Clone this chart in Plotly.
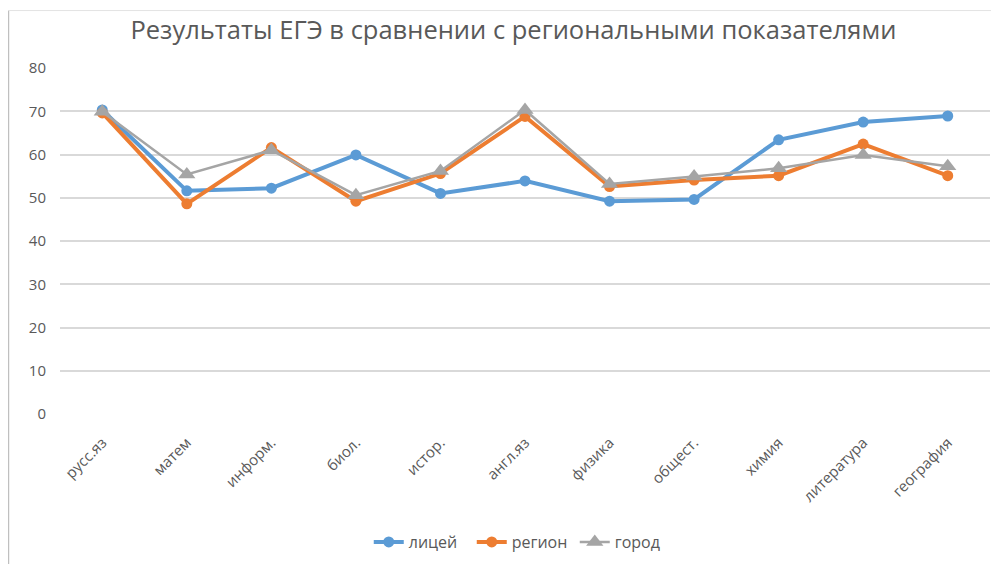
import plotly.graph_objects as go

categories = ["русс.яз", "матем", "информ.", "биол.", "истор.", "англ.яз",
              "физика", "общест.", "химия", "литература", "география"]
litsey = [70.3, 51.6, 52.2, 59.9, 51.0, 53.9, 49.2, 49.6, 63.4, 67.5, 68.9]
region = [69.6, 48.6, 61.6, 49.2, 55.6, 68.8, 52.6, 54.1, 55.1, 62.4, 55.1]
gorod = [69.9, 55.4, 61.0, 50.6, 56.2, 70.3, 53.2, 54.9, 56.8, 59.9, 57.3]
y_ticks = [0, 10, 20, 30, 40, 50, 60, 70, 80]

font_family = "Open Sans, Noto Sans, sans-serif"
text_color = "#595959"

fig = go.Figure()
fig.add_trace(go.Scatter(x=categories, y=litsey, name="лицей", mode="lines+markers",
                         line=dict(color="#5B9BD5", width=4),
                         marker=dict(symbol="circle", size=11, color="#5B9BD5")))
fig.add_trace(go.Scatter(x=categories, y=region, name="регион", mode="lines+markers",
                         line=dict(color="#ED7D31", width=4),
                         marker=dict(symbol="circle", size=11, color="#ED7D31")))
fig.add_trace(go.Scatter(x=categories, y=gorod, name="город", mode="lines+markers",
                         line=dict(color="#A5A5A5", width=2.5),
                         marker=dict(symbol="triangle-up", size=15, color="#A5A5A5")))

fig.update_layout(
    width=991, height=556,
    margin=dict(l=52, r=9, t=60, b=150, autoexpand=False),
    paper_bgcolor="white", plot_bgcolor="white",
    title=dict(text="Результаты ЕГЭ в сравнении с региональными показателями",
               x=0.51, xanchor="center", y=1 - 22 / 556, yanchor="middle",
               font=dict(family=font_family, size=25.5, color=text_color)),
    font=dict(family=font_family, color=text_color),
    showlegend=True,
    legend=dict(orientation="h", x=0.332, xanchor="left", y=-0.37, yanchor="middle",
                font=dict(size=16, color=text_color), itemwidth=30,
                entrywidth=58, entrywidthmode="pixels", tracegroupgap=0),
    xaxis=dict(range=[-0.5, 10.5], tickangle=-45, showgrid=False, showline=False,
               ticks="outside", ticklen=13, tickcolor="rgba(0,0,0,0)",
               tickfont=dict(size=15, color=text_color)),
    yaxis=dict(range=[0, 80], tickvals=y_ticks, showgrid=True, gridcolor="#D9D9D9",
               gridwidth=1.5, zeroline=False, showline=False, ticks="outside",
               ticklen=10, tickcolor="rgba(0,0,0,0)",
               tickfont=dict(size=15, color=text_color)),
    shapes=[
        dict(type="line", xref="paper", yref="paper", x0=-0.0554, x1=-0.0554,
             y0=1.166, y1=-0.45, line=dict(color="#BFBFBF", width=1.5)),
        dict(type="line", xref="paper", yref="paper", x0=-0.0554, x1=1.02,
             y0=1.166, y1=1.166, line=dict(color="#E3E3E3", width=1)),
    ],
)

fig.write_html("out.html")
